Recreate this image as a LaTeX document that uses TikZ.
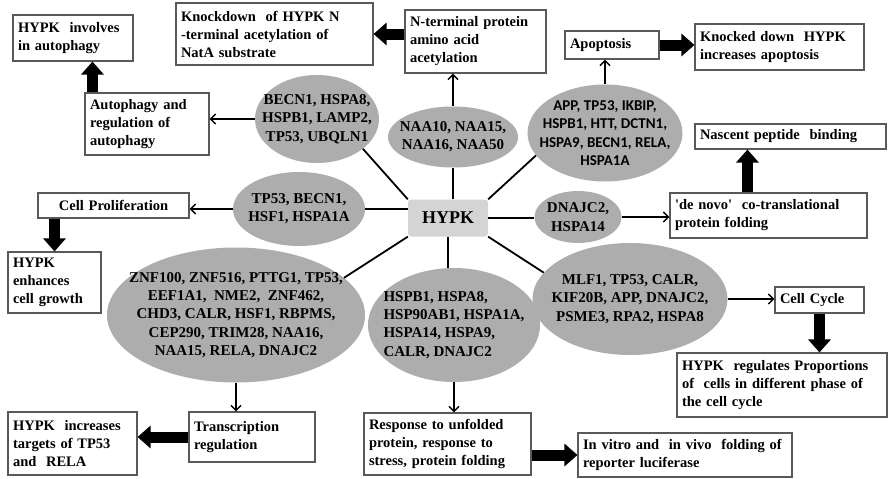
\documentclass[tikz,border=0pt]{standalone}
\usepackage{fontspec}
\setmainfont{Liberation Serif}
\newfontfamily\genesans{Carlito}
\usetikzlibrary{shapes.geometric, arrows.meta, positioning}

\begin{document}
\begin{tikzpicture}[
  x=1pt, y=-1pt,
  box/.style={rectangle, draw=black!65, line width=1.1pt, fill=white,
              inner xsep=5pt, inner ysep=3pt, align=left,
              font=\bfseries\fontsize{14.5}{18}\selectfont},
  genebox/.style={ellipse, fill=black!32, inner sep=-30pt, align=center,
              font=\bfseries\fontsize{15}{18.3}\selectfont},
  hubbox/.style={rectangle, rounded corners=3pt, fill=black!17,
              minimum width=80pt, minimum height=37pt,
              font=\bfseries\fontsize{18}{20}\selectfont},
  link/.style={line width=1.8pt},
  arrow/.style={-{Straight Barb[length=5pt, width=10pt]}, line width=1.5pt},
  bigarrow/.style={-{Triangle[length=13pt, width=22pt]}, line width=11pt}
]
\useasboundingbox (0,0) rectangle (889,479);

% hub
\node[hubbox] (hypk) at (448,218) {HYPK};

% interacting proteins
\node[genebox, minimum width=124pt, minimum height=88pt] (e_auto) at (317,119)
      {BECN1, HSPA8,\\HSPB1, LAMP2,\\TP53, UBQLN1};
\node[genebox, minimum width=130pt, minimum height=61pt] (e_naa) at (453,137)
      {NAA10, NAA15,\\NAA16, NAA50};
\node[genebox, minimum width=155pt, minimum height=97pt,
      font=\genesans\bfseries\fontsize{15}{18.5}\selectfont] (e_apop) at (605,133)
      {APP, TP53, IKBIP,\\HSPB1, HTT, DCTN1,\\HSPA9, BECN1, RELA,\\HSPA1A};
\node[genebox, minimum width=132pt, minimum height=74pt] (e_prolif) at (299,209)
      {TP53, BECN1,\\HSF1, HSPA1A};
\node[genebox, minimum width=87pt, minimum height=52pt] (e_fold) at (578,217)
      {DNAJC2,\\HSPA14};
\node[genebox, minimum width=258pt, minimum height=135pt] (e_trans) at (236,315)
      {ZNF100, ZNF516, PTTG1, TP53,\\EEF1A1,\ \ NME2,\ \ ZNF462,\\CHD3, CALR, HSF1, RBPMS,\\CEP290, TRIM28,\ NAA16,\\NAA15, RELA,\ DNAJC2};
\node[genebox, minimum width=172pt, minimum height=114pt, align=left] (e_stress) at (454,325)
      {HSPB1, HSPA8,\\HSP90AB1, HSPA1A,\\HSPA14, HSPA9,\\CALR, DNAJC2};
\node[genebox, minimum width=195pt, minimum height=112pt] (e_cycle) at (630,299)
      {MLF1,\ TP53, CALR,\\KIF20B,\ APP, DNAJC2,\\PSME3, RPA2,\ HSPA8};

% processes
\node[box, text width=114pt, minimum height=62pt] (b_autoph) at (147,124)
      {Autophagy and\\regulation of\\autophagy};
\node[box, text width=131pt, minimum height=63pt] (b_nterm) at (475.5,41.5)
      {N-terminal protein\\amino acid\\acetylation};
\node[box, text width=84pt, minimum height=28pt] (b_apop) at (612,45) {Apoptosis};
\node[box, text width=141pt, minimum height=25pt, align=center] (b_prolif) at (113.5,205.5)
      {Cell Proliferation};
\node[box, text width=187pt, minimum height=45pt] (b_denovo) at (768.5,215.5)
      {\textquotesingle{}de novo\textquotesingle{}\ \ co-translational\\protein folding};
\node[box, text width=79pt, minimum height=26pt] (b_cycle) at (819.5,300) {Cell Cycle};
\node[box, text width=116pt, minimum height=50pt] (b_trans) at (252,437)
      {Transcription\\regulation};
\node[box, text width=157pt, minimum height=62pt] (b_response) at (447.5,444)
      {Response to unfolded\\protein, response to\\stress, protein folding};

% outcomes
\node[box, text width=110pt, minimum height=46pt] (b_involves) at (73,38)
      {HYPK\ \ involves\\in autophagy};
\node[box, text width=187pt, minimum height=62pt] (b_knock) at (274.5,34)
      {Knockdown\ \ of HYPK N\\-terminal acetylation of\\NatA substrate};
\node[box, text width=159pt, minimum height=46pt] (b_knocked) at (779.5,47)
      {Knocked down\ \ HYPK\\increases apoptosis};
\node[box, text width=181pt, minimum height=25pt] (b_nascent) at (790.5,136.5)
      {Nascent peptide\ \ binding};
\node[box, text width=83pt, minimum height=61pt] (b_enhances) at (54.5,282.5)
      {HYPK\\enhances\\cell growth};
\node[box, text width=200pt, minimum height=64pt] (b_regulates) at (782,385)
      {HYPK\ \ regulates Proportions\\of\ \ cells in different phase of\\the cell cycle};
\node[box, text width=204pt, minimum height=44pt] (b_vitro) at (685,455)
      {In vitro and\ \ in vivo\ \ folding of\\reporter luciferase};
\node[box, text width=119pt, minimum height=63pt] (b_increases) at (72.5,443.5)
      {HYPK\ \ increases\\targets of TP53\\and\ \ RELA};

% spokes from the hub
\draw[link] (hypk.north west) -- (e_auto.-33);
\draw[link] (hypk.north -| e_naa.south) -- (e_naa.south);
\draw[link] (hypk.north east) -- (e_apop.198);
\draw[link] (e_prolif.east) -- (e_prolif.east -| hypk.west);
\draw[link] (hypk.east) -- (hypk.east -| e_fold.west);
\draw[link] (hypk.south west) -- (e_trans.19);
\draw[link] (hypk.south) -- (hypk.south |- e_stress.north);
\draw[link] (hypk.south east) -- (e_cycle.163);

% proteins to processes
\draw[arrow] (e_auto.west)    -- (e_auto.west -| b_autoph.east);
\draw[arrow] (e_naa.north)    -- (e_naa.north |- b_nterm.south);
\draw[arrow] (e_apop.north)   -- (e_apop.north |- b_apop.south);
\draw[arrow] (e_prolif.west)  -- (e_prolif.west -| b_prolif.east);
\draw[arrow] (e_fold.east)    -- (e_fold.east -| b_denovo.west);
\draw[arrow] (e_cycle.east)   -- (e_cycle.east -| b_cycle.west);
\draw[arrow] (e_trans.south)  -- (e_trans.south |- b_trans.north);
\draw[arrow] (e_stress.south) -- (e_stress.south |- b_response.north);

% processes to outcomes
\coordinate (c_auto) at ([xshift=8pt]b_autoph.north west);
\coordinate (c_fold) at ([xshift=78pt]b_denovo.north west);
\draw[bigarrow] (c_auto) -- (c_auto |- b_involves.south);
\draw[bigarrow] (b_nterm.west |- b_knock.east) -- (b_knock.east);
\draw[bigarrow] (b_apop.east) -- (b_apop.east -| b_knocked.west);
\draw[bigarrow] (c_fold) -- (c_fold |- b_nascent.south);
\draw[bigarrow] (b_cycle.south) -- (b_cycle.south |- b_regulates.north);
\draw[bigarrow] (b_response.east |- b_vitro.west) -- (b_vitro.west);
\draw[bigarrow] (b_trans.west) -- (b_trans.west -| b_increases.east);
\draw[bigarrow] (b_enhances.north |- b_prolif.south) -- (b_enhances.north);
\end{tikzpicture}
\end{document}
